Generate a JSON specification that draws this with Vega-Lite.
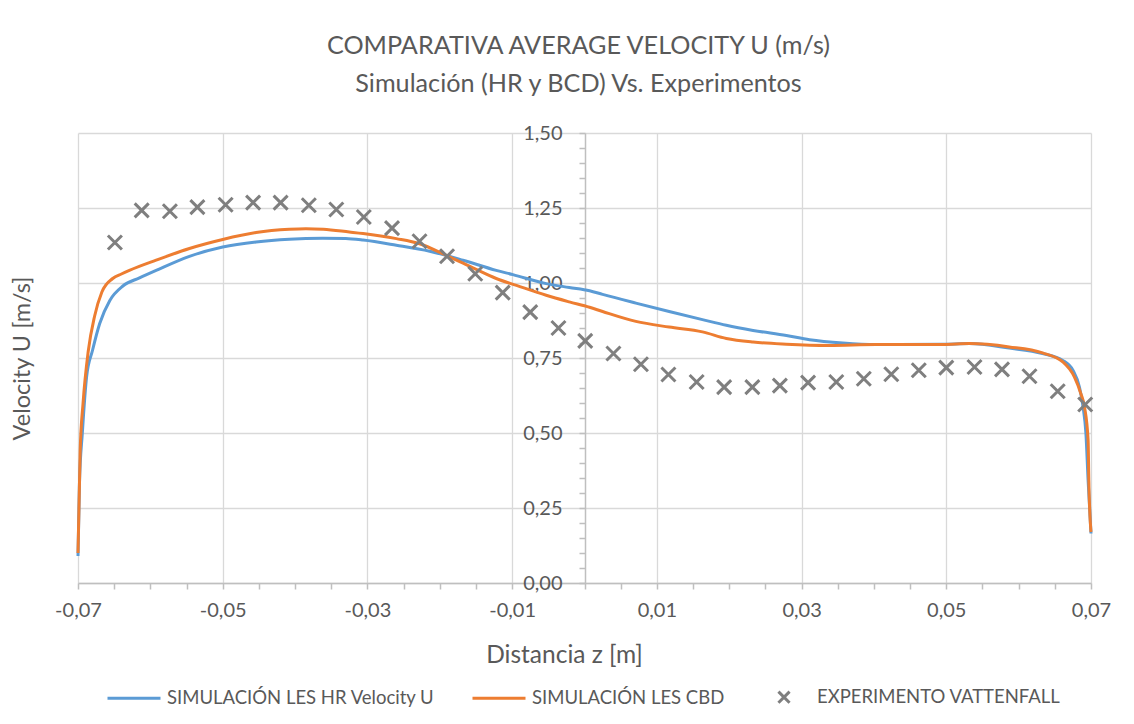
{
  "$schema": "https://vega.github.io/schema/vega-lite/v6.json",
  "width": 1013,
  "height": 450,
  "autosize": {"type": "none"},
  "padding": {"left": 78, "top": 133, "right": 43, "bottom": 141},
  "background": "white",
  "config": {"font": "Lato", "view": {"stroke": null}},
  "title": {
    "text": ["COMPARATIVA AVERAGE VELOCITY U (m/s)", "Simulación (HR y BCD) Vs. Experimentos"],
    "fontSize": 25.2, "fontWeight": "normal", "color": "#595959", "font": "Lato",
    "lineHeight": 38, "anchor": "middle", "offset": 26, "dx": -6
  },
  "datasets": {
    "curves": [
      {"s": "SIMULACIÓN LES HR Velocity U", "z": -0.0700, "u": 0.090},
      {"s": "SIMULACIÓN LES HR Velocity U", "z": -0.0698, "u": 0.330},
      {"s": "SIMULACIÓN LES HR Velocity U", "z": -0.0694, "u": 0.500},
      {"s": "SIMULACIÓN LES HR Velocity U", "z": -0.0688, "u": 0.690},
      {"s": "SIMULACIÓN LES HR Velocity U", "z": -0.0680, "u": 0.775},
      {"s": "SIMULACIÓN LES HR Velocity U", "z": -0.0670, "u": 0.865},
      {"s": "SIMULACIÓN LES HR Velocity U", "z": -0.0656, "u": 0.942},
      {"s": "SIMULACIÓN LES HR Velocity U", "z": -0.0638, "u": 0.990},
      {"s": "SIMULACIÓN LES HR Velocity U", "z": -0.0615, "u": 1.017},
      {"s": "SIMULACIÓN LES HR Velocity U", "z": -0.0592, "u": 1.042},
      {"s": "SIMULACIÓN LES HR Velocity U", "z": -0.0546, "u": 1.089},
      {"s": "SIMULACIÓN LES HR Velocity U", "z": -0.0500, "u": 1.120},
      {"s": "SIMULACIÓN LES HR Velocity U", "z": -0.0454, "u": 1.137},
      {"s": "SIMULACIÓN LES HR Velocity U", "z": -0.0408, "u": 1.146},
      {"s": "SIMULACIÓN LES HR Velocity U", "z": -0.0362, "u": 1.149},
      {"s": "SIMULACIÓN LES HR Velocity U", "z": -0.0330, "u": 1.148},
      {"s": "SIMULACIÓN LES HR Velocity U", "z": -0.0306, "u": 1.143},
      {"s": "SIMULACIÓN LES HR Velocity U", "z": -0.0260, "u": 1.126},
      {"s": "SIMULACIÓN LES HR Velocity U", "z": -0.0214, "u": 1.106},
      {"s": "SIMULACIÓN LES HR Velocity U", "z": -0.0168, "u": 1.076},
      {"s": "SIMULACIÓN LES HR Velocity U", "z": -0.0122, "u": 1.042},
      {"s": "SIMULACIÓN LES HR Velocity U", "z": -0.0099, "u": 1.028},
      {"s": "SIMULACIÓN LES HR Velocity U", "z": -0.0053, "u": 0.998},
      {"s": "SIMULACIÓN LES HR Velocity U", "z": -0.0021, "u": 0.985},
      {"s": "SIMULACIÓN LES HR Velocity U", "z": 0.0007, "u": 0.974},
      {"s": "SIMULACIÓN LES HR Velocity U", "z": 0.0025, "u": 0.962},
      {"s": "SIMULACIÓN LES HR Velocity U", "z": 0.0071, "u": 0.933},
      {"s": "SIMULACIÓN LES HR Velocity U", "z": 0.0117, "u": 0.905},
      {"s": "SIMULACIÓN LES HR Velocity U", "z": 0.0163, "u": 0.878},
      {"s": "SIMULACIÓN LES HR Velocity U", "z": 0.0196, "u": 0.859},
      {"s": "SIMULACIÓN LES HR Velocity U", "z": 0.0233, "u": 0.842},
      {"s": "SIMULACIÓN LES HR Velocity U", "z": 0.0279, "u": 0.825},
      {"s": "SIMULACIÓN LES HR Velocity U", "z": 0.0311, "u": 0.811},
      {"s": "SIMULACIÓN LES HR Velocity U", "z": 0.0357, "u": 0.800},
      {"s": "SIMULACIÓN LES HR Velocity U", "z": 0.0403, "u": 0.795},
      {"s": "SIMULACIÓN LES HR Velocity U", "z": 0.0495, "u": 0.796},
      {"s": "SIMULACIÓN LES HR Velocity U", "z": 0.0532, "u": 0.798},
      {"s": "SIMULACIÓN LES HR Velocity U", "z": 0.0587, "u": 0.783},
      {"s": "SIMULACIÓN LES HR Velocity U", "z": 0.0633, "u": 0.765},
      {"s": "SIMULACIÓN LES HR Velocity U", "z": 0.0661, "u": 0.742},
      {"s": "SIMULACIÓN LES HR Velocity U", "z": 0.0675, "u": 0.709},
      {"s": "SIMULACIÓN LES HR Velocity U", "z": 0.0684, "u": 0.653},
      {"s": "SIMULACIÓN LES HR Velocity U", "z": 0.0689, "u": 0.587},
      {"s": "SIMULACIÓN LES HR Velocity U", "z": 0.0693, "u": 0.498},
      {"s": "SIMULACIÓN LES HR Velocity U", "z": 0.0696, "u": 0.342},
      {"s": "SIMULACIÓN LES HR Velocity U", "z": 0.0700, "u": 0.165},
      {"s": "SIMULACIÓN LES CBD", "z": -0.0700, "u": 0.100},
      {"s": "SIMULACIÓN LES CBD", "z": -0.0697, "u": 0.440},
      {"s": "SIMULACIÓN LES CBD", "z": -0.0693, "u": 0.600},
      {"s": "SIMULACIÓN LES CBD", "z": -0.0686, "u": 0.770},
      {"s": "SIMULACIÓN LES CBD", "z": -0.0677, "u": 0.890},
      {"s": "SIMULACIÓN LES CBD", "z": -0.0667, "u": 0.970},
      {"s": "SIMULACIÓN LES CBD", "z": -0.0652, "u": 1.015},
      {"s": "SIMULACIÓN LES CBD", "z": -0.0640, "u": 1.030},
      {"s": "SIMULACIÓN LES CBD", "z": -0.0629, "u": 1.042},
      {"s": "SIMULACIÓN LES CBD", "z": -0.0592, "u": 1.076},
      {"s": "SIMULACIÓN LES CBD", "z": -0.0546, "u": 1.115},
      {"s": "SIMULACIÓN LES CBD", "z": -0.0500, "u": 1.145},
      {"s": "SIMULACIÓN LES CBD", "z": -0.0454, "u": 1.168},
      {"s": "SIMULACIÓN LES CBD", "z": -0.0408, "u": 1.179},
      {"s": "SIMULACIÓN LES CBD", "z": -0.0385, "u": 1.181},
      {"s": "SIMULACIÓN LES CBD", "z": -0.0361, "u": 1.179},
      {"s": "SIMULACIÓN LES CBD", "z": -0.0325, "u": 1.170},
      {"s": "SIMULACIÓN LES CBD", "z": -0.0306, "u": 1.165},
      {"s": "SIMULACIÓN LES CBD", "z": -0.0260, "u": 1.148},
      {"s": "SIMULACIÓN LES CBD", "z": -0.0228, "u": 1.131},
      {"s": "SIMULACIÓN LES CBD", "z": -0.0191, "u": 1.092},
      {"s": "SIMULACIÓN LES CBD", "z": -0.0159, "u": 1.056},
      {"s": "SIMULACIÓN LES CBD", "z": -0.0122, "u": 1.015},
      {"s": "SIMULACIÓN LES CBD", "z": -0.0094, "u": 0.992},
      {"s": "SIMULACIÓN LES CBD", "z": -0.0053, "u": 0.959},
      {"s": "SIMULACIÓN LES CBD", "z": -0.0021, "u": 0.937},
      {"s": "SIMULACIÓN LES CBD", "z": 0.0007, "u": 0.919},
      {"s": "SIMULACIÓN LES CBD", "z": 0.0025, "u": 0.905},
      {"s": "SIMULACIÓN LES CBD", "z": 0.0071, "u": 0.872},
      {"s": "SIMULACIÓN LES CBD", "z": 0.0117, "u": 0.853},
      {"s": "SIMULACIÓN LES CBD", "z": 0.0163, "u": 0.837},
      {"s": "SIMULACIÓN LES CBD", "z": 0.0196, "u": 0.815},
      {"s": "SIMULACIÓN LES CBD", "z": 0.0233, "u": 0.803},
      {"s": "SIMULACIÓN LES CBD", "z": 0.0279, "u": 0.796},
      {"s": "SIMULACIÓN LES CBD", "z": 0.0338, "u": 0.792},
      {"s": "SIMULACIÓN LES CBD", "z": 0.0403, "u": 0.795},
      {"s": "SIMULACIÓN LES CBD", "z": 0.0495, "u": 0.795},
      {"s": "SIMULACIÓN LES CBD", "z": 0.0532, "u": 0.798},
      {"s": "SIMULACIÓN LES CBD", "z": 0.0587, "u": 0.787},
      {"s": "SIMULACIÓN LES CBD", "z": 0.0633, "u": 0.767},
      {"s": "SIMULACIÓN LES CBD", "z": 0.0661, "u": 0.737},
      {"s": "SIMULACIÓN LES CBD", "z": 0.0677, "u": 0.687},
      {"s": "SIMULACIÓN LES CBD", "z": 0.0686, "u": 0.631},
      {"s": "SIMULACIÓN LES CBD", "z": 0.0691, "u": 0.587},
      {"s": "SIMULACIÓN LES CBD", "z": 0.0696, "u": 0.476},
      {"s": "SIMULACIÓN LES CBD", "z": 0.0697, "u": 0.342},
      {"s": "SIMULACIÓN LES CBD", "z": 0.0700, "u": 0.170}
    ],
    "exp": [
      {"s": "EXPERIMENTO VATTENFALL", "z": -0.0649, "u": 1.135},
      {"s": "EXPERIMENTO VATTENFALL", "z": -0.0612, "u": 1.242},
      {"s": "EXPERIMENTO VATTENFALL", "z": -0.0573, "u": 1.239},
      {"s": "EXPERIMENTO VATTENFALL", "z": -0.0535, "u": 1.253},
      {"s": "EXPERIMENTO VATTENFALL", "z": -0.0496, "u": 1.261},
      {"s": "EXPERIMENTO VATTENFALL", "z": -0.0458, "u": 1.268},
      {"s": "EXPERIMENTO VATTENFALL", "z": -0.0420, "u": 1.268},
      {"s": "EXPERIMENTO VATTENFALL", "z": -0.0381, "u": 1.259},
      {"s": "EXPERIMENTO VATTENFALL", "z": -0.0343, "u": 1.245},
      {"s": "EXPERIMENTO VATTENFALL", "z": -0.0305, "u": 1.220},
      {"s": "EXPERIMENTO VATTENFALL", "z": -0.0266, "u": 1.183},
      {"s": "EXPERIMENTO VATTENFALL", "z": -0.0228, "u": 1.139},
      {"s": "EXPERIMENTO VATTENFALL", "z": -0.0190, "u": 1.089},
      {"s": "EXPERIMENTO VATTENFALL", "z": -0.0151, "u": 1.031},
      {"s": "EXPERIMENTO VATTENFALL", "z": -0.0113, "u": 0.968},
      {"s": "EXPERIMENTO VATTENFALL", "z": -0.0075, "u": 0.903},
      {"s": "EXPERIMENTO VATTENFALL", "z": -0.0036, "u": 0.850},
      {"s": "EXPERIMENTO VATTENFALL", "z": 0.0001, "u": 0.807},
      {"s": "EXPERIMENTO VATTENFALL", "z": 0.0040, "u": 0.765},
      {"s": "EXPERIMENTO VATTENFALL", "z": 0.0078, "u": 0.729},
      {"s": "EXPERIMENTO VATTENFALL", "z": 0.0116, "u": 0.695},
      {"s": "EXPERIMENTO VATTENFALL", "z": 0.0155, "u": 0.670},
      {"s": "EXPERIMENTO VATTENFALL", "z": 0.0193, "u": 0.653},
      {"s": "EXPERIMENTO VATTENFALL", "z": 0.0232, "u": 0.653},
      {"s": "EXPERIMENTO VATTENFALL", "z": 0.0270, "u": 0.658},
      {"s": "EXPERIMENTO VATTENFALL", "z": 0.0309, "u": 0.668},
      {"s": "EXPERIMENTO VATTENFALL", "z": 0.0348, "u": 0.670},
      {"s": "EXPERIMENTO VATTENFALL", "z": 0.0386, "u": 0.681},
      {"s": "EXPERIMENTO VATTENFALL", "z": 0.0424, "u": 0.696},
      {"s": "EXPERIMENTO VATTENFALL", "z": 0.0462, "u": 0.709},
      {"s": "EXPERIMENTO VATTENFALL", "z": 0.0500, "u": 0.718},
      {"s": "EXPERIMENTO VATTENFALL", "z": 0.0539, "u": 0.720},
      {"s": "EXPERIMENTO VATTENFALL", "z": 0.0577, "u": 0.712},
      {"s": "EXPERIMENTO VATTENFALL", "z": 0.0615, "u": 0.689},
      {"s": "EXPERIMENTO VATTENFALL", "z": 0.0654, "u": 0.639},
      {"s": "EXPERIMENTO VATTENFALL", "z": 0.0692, "u": 0.595}
    ]
  },
  "encoding": {
    "x": {
      "field": "z", "type": "quantitative",
      "scale": {"domain": [-0.07, 0.07], "nice": false, "zero": false},
      "axis": {
        "values": [-0.07, -0.065, -0.06, -0.055, -0.05, -0.045, -0.04, -0.035, -0.03, -0.025, -0.02, -0.015, -0.01, -0.005, 0, 0.005, 0.01, 0.015, 0.02, 0.025, 0.03, 0.035, 0.04, 0.045, 0.05, 0.055, 0.06, 0.065, 0.07],
        "labelExpr": "round((datum.value + 0.07) * 200) % 4 == 0 ? replace(replace(format(datum.value, '.2f'), '.', ','), '\u2212', '-') : ''",
        "labelOverlap": false, "labelFlush": false,
        "grid": true, "gridColor": "#d9d9d9", "gridWidth": 1.3,
        "gridOpacity": {"condition": {"test": "round((datum.value + 0.07) * 200) % 4 == 0", "value": 1}, "value": 0},
        "domainColor": "#bfbfbf", "domainWidth": 1.5,
        "tickColor": "#bfbfbf", "tickWidth": 1.5, "tickSize": 6,
        "labelFontSize": 20, "labelColor": "#595959", "labelPadding": 11, "labelFont": "Lato",
        "title": "Distancia z [m]", "titleFontSize": 24.5, "titleColor": "#595959", "titleFontWeight": "normal", "titleFont": "Lato",
        "titleX": 486, "titleY": 72, "titleBaseline": "middle", "titleAlign": "center",
        "encode": {"ticks": {"update": {"y": {"value": -6}}}}
      }
    },
    "y": {
      "field": "u", "type": "quantitative",
      "scale": {"domain": [0, 1.5], "nice": false},
      "axis": {
        "values": [0, 0.05, 0.1, 0.15, 0.2, 0.25, 0.3, 0.35, 0.4, 0.45, 0.5, 0.55, 0.6, 0.65, 0.7, 0.75, 0.8, 0.85, 0.9, 0.95, 1, 1.05, 1.1, 1.15, 1.2, 1.25, 1.3, 1.35, 1.4, 1.45, 1.5],
        "offset": -507,
        "labelExpr": "round(datum.value * 20) % 5 == 0 ? replace(format(datum.value, '.2f'), '.', ',') : ''",
        "labelOverlap": false, "labelFlush": false,
        "grid": true, "gridColor": "#d9d9d9", "gridWidth": 1.3,
        "gridOpacity": {"condition": {"test": "round(datum.value * 20) % 5 == 0", "value": 1}, "value": 0},
        "domainColor": "#bfbfbf", "domainWidth": 1.5,
        "tickColor": "#bfbfbf", "tickWidth": 1.5, "tickSize": 6,
        "labelFontSize": 20, "labelColor": "#595959", "labelPadding": 17, "labelFont": "Lato",
        "title": "Velocity U [m/s]", "titleFontSize": 23.5, "titleColor": "#595959", "titleFontWeight": "normal", "titleFont": "Lato",
        "titleX": -563, "titleY": 225, "titleAngle": -90, "titleBaseline": "middle", "titleAlign": "center",
        "encode": {"ticks": {"update": {"x": {"value": 6}}}}
      }
    },
    "color": {
      "field": "s", "type": "nominal",
      "scale": {"domain": ["SIMULACIÓN LES HR Velocity U", "SIMULACIÓN LES CBD", "EXPERIMENTO VATTENFALL"], "range": ["#5b9bd5", "#ed7d31", "#7f7f7f"]},
      "legend": {"orient": "none", "legendX": 28, "legendY": 536, "direction": "horizontal", "title": null, "symbolSize": 2809, "symbolStrokeWidth": 3, "labelFontSize": 18.5, "labelLimit": 500, "labelColor": "#595959", "labelFont": "Lato", "columnPadding": 31, "labelOffset": 5}
    }
  },
  "layer": [
    {
      "data": {"name": "curves"},
      "mark": {"type": "line", "strokeWidth": 3, "interpolate": "monotone"}
    },
    {
      "data": {"name": "exp"},
      "mark": {"type": "point", "filled": false, "strokeWidth": 3, "size": 4444, "opacity": 1},
      "encoding": {
        "shape": {
          "field": "s", "type": "nominal",
          "scale": {"domain": ["SIMULACIÓN LES HR Velocity U", "SIMULACIÓN LES CBD", "EXPERIMENTO VATTENFALL"], "range": ["stroke", "stroke", "M-0.21,-0.21L0.21,0.21M0.21,-0.21L-0.21,0.21"]},
          "legend": {"orient": "none", "legendX": 28, "legendY": 536, "direction": "horizontal", "title": null, "symbolSize": 2809, "symbolStrokeWidth": 3, "labelFontSize": 18.5, "labelLimit": 500, "labelColor": "#595959", "labelFont": "Lato", "columnPadding": 31, "labelOffset": 5}
        }
      }
    }
  ]
}
